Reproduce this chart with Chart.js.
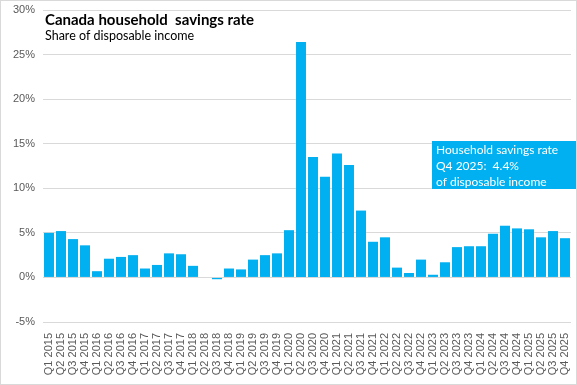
<!DOCTYPE html>
<html>
<head>
<meta charset="utf-8">
<script src="https://cdn.jsdelivr.net/npm/chart.js@4/dist/chart.umd.min.js"></script>
<style>
  html, body { margin: 0; padding: 0; background: #fff; }
  #wrap { width: 577px; height: 385px; box-sizing: border-box; border: 1px solid #d9d9d9; }
  #savings_chart { display: block; }
</style>
</head>
<body>
<div id="wrap"><canvas id="savings_chart" width="575" height="383"></canvas></div>
<script>
const quarters = [
  'Q1 2015', 'Q2 2015', 'Q3 2015', 'Q4 2015',
  'Q1 2016', 'Q2 2016', 'Q3 2016', 'Q4 2016',
  'Q1 2017', 'Q2 2017', 'Q3 2017', 'Q4 2017',
  'Q1 2018', 'Q2 2018', 'Q3 2018', 'Q4 2018',
  'Q1 2019', 'Q2 2019', 'Q3 2019', 'Q4 2019',
  'Q1 2020', 'Q2 2020', 'Q3 2020', 'Q4 2020',
  'Q1 2021', 'Q2 2021', 'Q3 2021', 'Q4 2021',
  'Q1 2022', 'Q2 2022', 'Q3 2022', 'Q4 2022',
  'Q1 2023', 'Q2 2023', 'Q3 2023', 'Q4 2023',
  'Q1 2024', 'Q2 2024', 'Q3 2024', 'Q4 2024',
  'Q1 2025', 'Q2 2025', 'Q3 2025', 'Q4 2025'
];

// household savings rate, % of disposable income
const savingsRate = [
  5.0, 5.2, 4.3, 3.6,
  0.7, 2.1, 2.3, 2.5,
  1.0, 1.4, 2.7, 2.6,
  1.3, 0.0, -0.2, 1.0,
  0.9, 2.0, 2.5, 2.7,
  5.3, 26.4, 13.5, 11.3,
  13.9, 12.6, 7.5, 4.0,
  4.5, 1.1, 0.5, 2.0,
  0.3, 1.7, 3.4, 3.5,
  3.5, 4.9, 5.8, 5.5,
  5.4, 4.5, 5.2, 4.4
];

const yTicks = [-5, 0, 5, 10, 15, 20, 25, 30];

const titleText = 'Canada household  savings rate';
const subtitleText = 'Share of disposable income';
const noteLines = ['Household savings rate', 'Q4 2025:  4.4%', 'of disposable income'];

const barBlue = '#00b0f0';

// plot area edges in canvas pixels (the Excel chart hugs the top and right)
const plotTop = 9;
const plotRight = 570;

// pull the plot area up to the top / right edge after Chart.js lays it out
const tightArea = {
  id: 'tightArea',
  afterLayout(chart) {
    const a = chart.chartArea;
    const { x, y } = chart.scales;
    a.top = plotTop;
    a.right = plotRight;
    a.height = a.bottom - a.top;
    a.width = a.right - a.left;
    y.top = plotTop;
    y.height = y.bottom - y.top;
    y.configure();
    x.right = plotRight;
    x.width = x.right - x.left;
    x.configure();
  }
};

// title, subtitle and the callout box sit on top of the plot area
const overlayText = {
  id: 'overlayText',
  afterDraw(chart) {
    const c = chart.ctx;
    c.save();
    c.fillStyle = '#000';
    c.textBaseline = 'alphabetic';
    c.font = 'bold 15px Lato, sans-serif';
    c.fillText(titleText, 44, 24);
    c.font = '12.5px Lato, sans-serif';
    c.fillText(subtitleText, 44, 39);

    c.fillStyle = barBlue;
    c.fillRect(431, 140, 146, 48);
    c.fillStyle = '#fff';
    c.font = '12px Lato, sans-serif';
    noteLines.forEach((t, i) => c.fillText(t, 435, 153 + i * 16));
    c.restore();
  }
};

const ctx = document.getElementById('savings_chart');
const savingsChart = new Chart(ctx, {
  type: 'bar',
  data: {
    labels: quarters,
    datasets: [{
      label: 'Household savings rate',
      data: savingsRate,
      backgroundColor: barBlue,
      barPercentage: 0.83,
      categoryPercentage: 1.0
    }]
  },
  options: {
    responsive: false,
    animation: false,
    layout: { padding: { top: 9, right: 5, left: 0, bottom: 0 } },
    plugins: {
      legend: { display: false },
      tooltip: { enabled: false }
    },
    scales: {
      x: {
        grid: { display: false },
        border: { display: false },
        ticks: {
          autoSkip: false,
          maxRotation: 90,
          minRotation: 90,
          padding: 3,
          color: '#595959',
          font: { family: '"Liberation Sans", Arial, sans-serif', size: 11 }
        },
        afterFit(s) { s.height = 62; }
      },
      y: {
        min: -5,
        max: 30,
        afterBuildTicks(s) { s.ticks = yTicks.map(v => ({ value: v })); },
        grid: { color: '#d9d9d9', drawTicks: false },
        border: { display: false },
        ticks: {
          padding: 8,
          color: '#595959',
          font: { family: '"Liberation Sans", Arial, sans-serif', size: 11 },
          callback: v => v + '%'
        },
        afterFit(s) { s.width = 42; }
      }
    }
  },
  plugins: [tightArea, overlayText]
});
</script>
</body>
</html>
